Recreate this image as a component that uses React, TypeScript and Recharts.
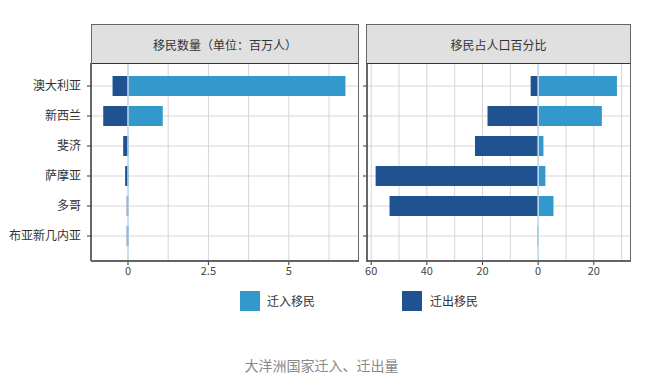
import React from 'react';
import { Bar, BarChart, CartesianGrid, ReferenceLine, XAxis, YAxis } from 'recharts';

const countries = ['澳大利亚', '新西兰', '斐济', '萨摩亚', '多哥', '布亚新几内亚'];
const immigrants = [6.76, 1.08, 0.03, 0.03, 0.02, 0.03];
const emigrants = [-0.48, -0.77, -0.15, -0.09, -0.04, -0.04];
const immigrantShare = [28.3, 22.9, 1.9, 2.6, 5.5, 0.3];
const emigrantShare = [-2.7, -18.2, -22.7, -58.4, -53.4, -0.2];

const countTicks = [0, 2.5, 5];
const countGrid = [0, 1.25, 2.5, 3.75, 5, 6.25];
const shareTicks = [-60, -40, -20, 0, 20];
const shareGrid = [-60, -50, -40, -30, -20, -10, 0, 10, 20, 30];

const IN_COLOR = '#3399cc';
const OUT_COLOR = '#1f5290';
const FONT = '"Noto Sans CJK SC", "Noto Sans", sans-serif';

const countData = countries.map((name, i) => ({ name, in: immigrants[i], out: emigrants[i] }));
const shareData = countries.map((name, i) => ({ name, in: immigrantShare[i], out: emigrantShare[i] }));

const Panel = ({ left, top, width, height, title }: any) => (
  <div
    style={{
      position: 'absolute',
      left,
      top,
      width,
      height,
      border: '1px solid #666',
      boxSizing: 'border-box',
      pointerEvents: 'none',
    }}
  >
    <div
      style={{
        height: 39,
        background: '#e0e0e0',
        borderBottom: '1.5px solid #333',
        boxSizing: 'border-box',
        textAlign: 'center',
        lineHeight: '40px',
        fontSize: 12,
        color: '#333',
        fontFamily: FONT,
      }}
    >
      {title}
    </div>
  </div>
);

const App = () => {
  return (
    <div style={{ position: 'absolute', left: 0, top: 0, width: 659, height: 386, background: '#fff', fontFamily: FONT }}>
      <div style={{ position: 'absolute', left: 0, top: 0 }}>
        <BarChart
          width={370}
          height={300}
          data={countData}
          layout="vertical"
          stackOffset="sign"
          margin={{ top: 63, right: 12, bottom: 14, left: 11 }}
        >
          <CartesianGrid stroke="#d6d6d6" verticalValues={countGrid} />
          <XAxis
            type="number"
            domain={[-1.15, 7.15]}
            ticks={countTicks}
            allowDataOverflow
            height={25}
            axisLine={{ stroke: '#333', strokeWidth: 1.5 }}
            tickLine={{ stroke: '#333' }}
            tickSize={4}
            tick={{ fontSize: 11, fill: '#444' }}
          />
          <YAxis
            type="category"
            dataKey="name"
            width={80}
            padding={{ top: 8, bottom: 10 }}
            axisLine={{ stroke: '#333', strokeWidth: 1.5 }}
            tickLine={{ stroke: '#333' }}
            tickSize={4}
            tickMargin={6}
            tick={{ fontSize: 12, fill: '#333' }}
          />
          <Bar dataKey="in" stackId="a" fill={IN_COLOR} barSize={20} isAnimationActive={false} />
          <Bar dataKey="out" stackId="a" fill={OUT_COLOR} barSize={20} isAnimationActive={false} />
          <ReferenceLine x={0} stroke="#c4dbeb" strokeWidth={1.5} />
        </BarChart>
      </div>
      <div style={{ position: 'absolute', left: 340, top: 0 }}>
        <BarChart
          width={310}
          height={300}
          data={shareData}
          layout="vertical"
          stackOffset="sign"
          margin={{ top: 63, right: 20, bottom: 14, left: 7 }}
        >
          <CartesianGrid stroke="#d6d6d6" verticalValues={shareGrid} />
          <XAxis
            type="number"
            domain={[-61.5, 33]}
            ticks={shareTicks}
            allowDataOverflow
            height={25}
            axisLine={{ stroke: '#333', strokeWidth: 1.5 }}
            tickLine={{ stroke: '#333' }}
            tickSize={4}
            tick={{ fontSize: 11, fill: '#444' }}
            tickFormatter={(v: number) => `${Math.abs(v)}`}
          />
          <YAxis
            type="category"
            dataKey="name"
            width={20}
            padding={{ top: 8, bottom: 10 }}
            axisLine={{ stroke: '#333', strokeWidth: 1.5 }}
            tickLine={{ stroke: '#333' }}
            tickSize={4}
            tickFormatter={() => ''}
          />
          <Bar dataKey="in" stackId="a" fill={IN_COLOR} barSize={20} isAnimationActive={false} />
          <Bar dataKey="out" stackId="a" fill={OUT_COLOR} barSize={20} isAnimationActive={false} />
          <ReferenceLine x={0} stroke="#c4dbeb" strokeWidth={1.5} />
        </BarChart>
      </div>
      <Panel left={91} top={24} width={268} height={238} title="移民数量（单位：百万人）" />
      <Panel left={366} top={24} width={265} height={238} title="移民占人口百分比" />
      <div style={{ position: 'absolute', left: 240, top: 291, width: 20, height: 20, background: IN_COLOR }} />
      <div style={{ position: 'absolute', left: 267, top: 292, fontSize: 12, color: '#333', lineHeight: '18px' }}>迁入移民</div>
      <div style={{ position: 'absolute', left: 402, top: 291, width: 20, height: 20, background: OUT_COLOR }} />
      <div style={{ position: 'absolute', left: 430, top: 292, fontSize: 12, color: '#333', lineHeight: '18px' }}>迁出移民</div>
      <div style={{ position: 'absolute', left: -8, width: 659, top: 356, textAlign: 'center', fontSize: 14, color: '#888', lineHeight: '18px' }}>
        大洋洲国家迁入、迁出量
      </div>
    </div>
  );
};

export default App;
